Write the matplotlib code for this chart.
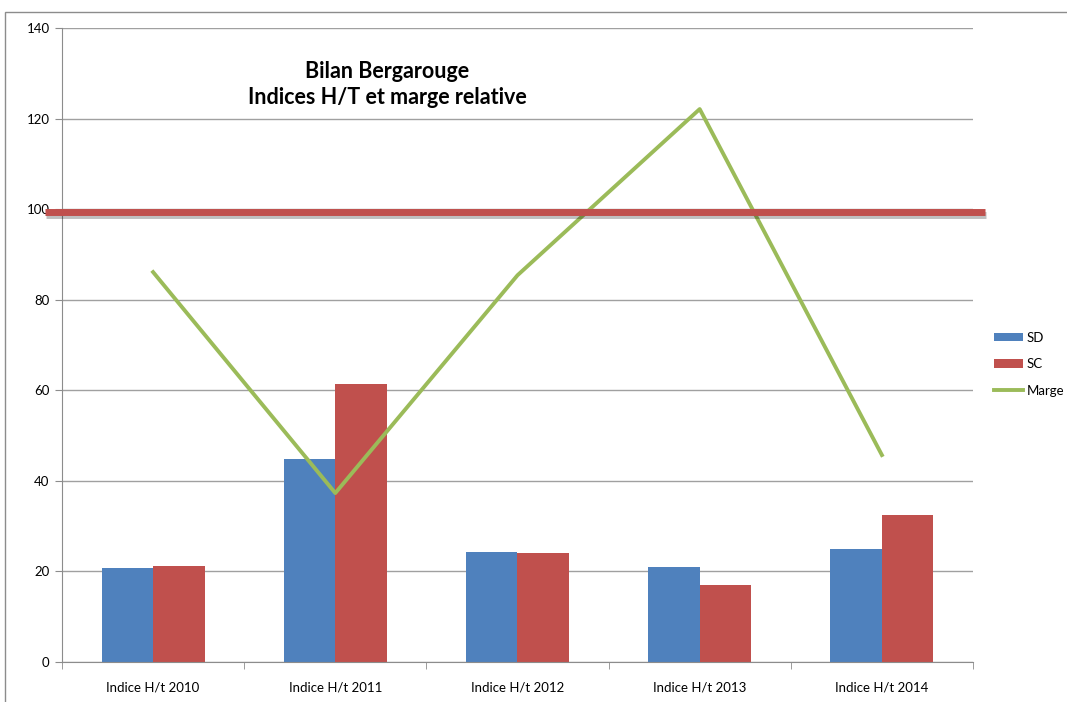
import matplotlib
matplotlib.use("Agg")
import matplotlib.pyplot as plt
import matplotlib.patheffects as pe
import matplotlib.transforms as mtransforms
import numpy as np

categories = ["Indice H/t 2010", "Indice H/t 2011", "Indice H/t 2012",
              "Indice H/t 2013", "Indice H/t 2014"]
sd = [20.8, 44.8, 24.3, 21.0, 25.0]
sc = [21.2, 61.4, 24.1, 17.0, 32.5]
marge = [86.1, 37.3, 85.4, 122.1, 45.7]
ref_level = 99.4
title = "Bilan Bergarouge\nIndices H/T et marge relative"

plt.rcParams['font.family'] = ['Lato', 'DejaVu Sans']

fig = plt.figure(figsize=(10.67, 7.02), dpi=100)
ax = fig.add_axes([0.0581, 0.057, 0.8538, 0.9031])

# chart area border
fig.patches.append(plt.Rectangle((5 / 1067, -0.1), 1.2, (702 - 12) / 702 + 0.1,
                                 transform=fig.transFigure, fill=False,
                                 edgecolor="#8c8c8c", linewidth=1.0))

x = np.arange(len(categories))
width = 0.283
h_sd = ax.bar(x - width / 2, sd, width, color="#4F81BD", label="SD", zorder=2)
h_sc = ax.bar(x + width / 2, sc, width, color="#C0504D", label="SC", zorder=2)
h_m, = ax.plot(x, marge, color="#9BBB59", linewidth=2.8, label="Marge", zorder=3)

# red reference line across the chart
trans = mtransforms.blended_transform_factory(ax.transAxes, ax.transData)
ax.plot([-0.019, 1.013], [ref_level, ref_level], color="#C0504D", linewidth=5,
        transform=trans, clip_on=False, zorder=4, solid_capstyle="butt",
        path_effects=[pe.SimpleLineShadow(offset=(1, -2), alpha=0.25), pe.Normal()])

ax.set_xlim(-0.5, len(categories) - 0.5)
ax.set_ylim(0, 140)
ax.set_yticks(np.arange(0, 141, 20))
ax.yaxis.grid(True, color="#a0a0a0", linewidth=1.0, zorder=0)
ax.set_axisbelow(True)

ax.set_xticks(x)
ax.set_xticklabels(categories, fontsize=9.5)
ax.set_xticks(np.arange(-0.5, len(categories)), minor=True)
ax.tick_params(axis="x", which="major", length=0, pad=14)
ax.tick_params(axis="x", which="minor", length=5, color="#8c8c8c")
ax.tick_params(axis="y", length=5, color="#8c8c8c", labelsize=9.5, pad=4)

for side in ["top", "right"]:
    ax.spines[side].set_visible(False)
for side in ["left", "bottom"]:
    ax.spines[side].set_color("#8c8c8c")

ax.text(0.357, 0.948, title, transform=ax.transAxes, ha="center", va="top",
        fontsize=15.5, fontweight="bold", linespacing=1.3)

ax.legend([h_sd, h_sc, h_m], ["SD", "SC", "Marge"],
          loc="center left", bbox_to_anchor=(1.01, 0.47), frameon=False,
          fontsize=9.5, handlelength=2.2, handleheight=0.6,
          labelspacing=1.1, handletextpad=0.3)

fig.savefig("out.png", dpi=100)
